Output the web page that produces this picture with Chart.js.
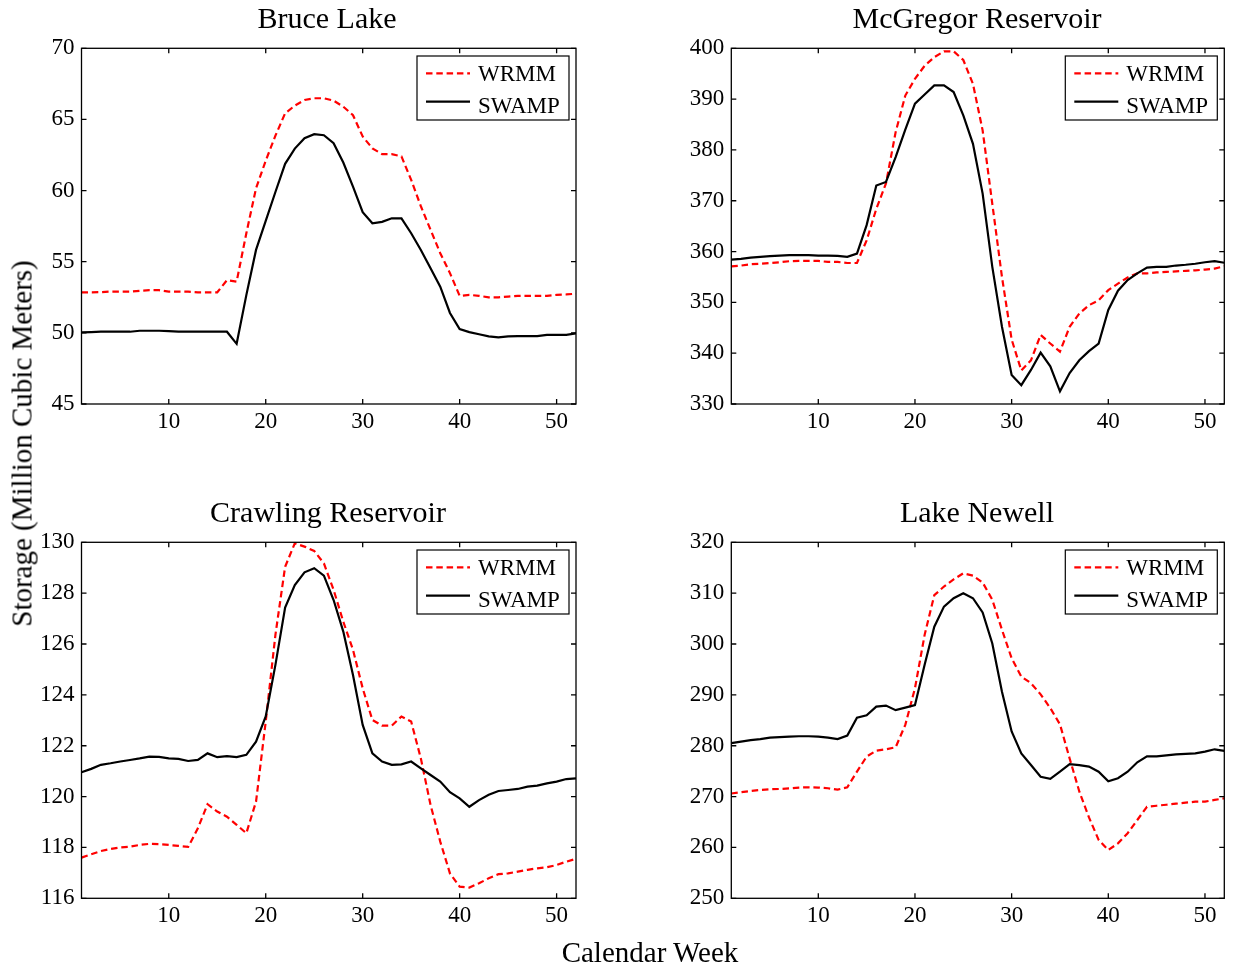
<!DOCTYPE html>
<html><head><meta charset="utf-8">
<script src="https://cdn.jsdelivr.net/npm/chart.js@4.4.0/dist/chart.umd.min.js"></script>
<style>
html,body{margin:0;padding:0;background:#fff;}
#wrap{position:relative;width:1233px;height:970px;overflow:hidden;font-family:'Liberation Serif','Times New Roman',serif;color:#000;background:#fff;}
canvas{position:absolute;left:0;top:0;}
.t{position:absolute;white-space:nowrap;line-height:1;text-align:center;}
</style></head><body>
<div id="wrap">
<canvas id="c1" width="1233" height="970"></canvas>
<canvas id="c2" width="1233" height="970"></canvas>
<canvas id="c3" width="1233" height="970"></canvas>
<canvas id="c4" width="1233" height="970"></canvas>
<div class="t" style="left:127px;top:3.2px;width:400px;font-size:30px;">Bruce Lake</div>
<div class="t" style="left:777px;top:3.2px;width:400px;font-size:30px;">McGregor Reservoir</div>
<div class="t" style="left:128px;top:497.2px;width:400px;font-size:30px;">Crawling Reservoir</div>
<div class="t" style="left:777px;top:497.2px;width:400px;font-size:30px;">Lake Newell</div>
<div class="t" style="left:-188px;top:429px;width:420px;font-size:29px;transform:rotate(-90deg);">Storage (Million Cubic Meters)</div>
<div class="t" style="left:500px;top:938px;width:300px;font-size:29px;">Calendar Week</div>
</div>
<script>
const weeks = [1,2,3,4,5,6,7,8,9,10,11,12,13,14,15,16,17,18,19,20,21,22,23,24,25,26,27,28,29,30,31,32,33,34,35,36,37,38,39,40,41,42,43,44,45,46,47,48,49,50,51,52];
const xTicks = [10,20,30,40,50];
const xTickLabels = ['10','20','30','40','50'];
const seriesNames = ['WRMM','SWAMP'];

const bruceTicks = [45,50,55,60,65,70];
const bruceWRMM = [52.84,52.85,52.86,52.9,52.9,52.9,52.95,53.0,53.0,52.9,52.9,52.9,52.85,52.85,52.85,53.7,53.6,57.0,60.16,62.1,63.86,65.43,65.97,66.37,66.49,66.49,66.32,65.9,65.3,63.8,62.97,62.56,62.56,62.4,60.75,58.9,57.24,55.6,54.2,52.6,52.67,52.6,52.5,52.5,52.55,52.6,52.6,52.6,52.6,52.67,52.7,52.75];
const bruceSWAMP = [50.03,50.05,50.08,50.08,50.08,50.08,50.15,50.15,50.15,50.12,50.08,50.08,50.08,50.08,50.08,50.08,49.23,52.65,55.83,57.87,59.9,61.88,62.95,63.68,63.96,63.89,63.33,61.97,60.28,58.48,57.7,57.8,58.05,58.05,57.0,55.83,54.54,53.25,51.4,50.26,50.05,49.9,49.75,49.68,49.75,49.77,49.77,49.77,49.86,49.86,49.86,49.96];

const mcgTicks = [330,340,350,360,370,380,390,400];
const mcgWRMM = [357.1,357.24,357.5,357.6,357.75,357.9,358.1,358.16,358.16,358.16,357.96,357.96,357.75,357.75,362.2,368.4,373.4,383.5,390.7,394.0,396.56,398.26,399.4,399.4,397.7,393.0,383.85,369.4,355.0,342.7,336.6,338.6,343.6,341.9,340.3,345.2,347.8,349.45,350.4,352.4,353.7,354.9,355.7,355.7,355.9,356.0,356.1,356.2,356.3,356.45,356.65,357.1];
const mcgSWAMP = [358.4,358.55,358.8,358.95,359.1,359.2,359.3,359.3,359.3,359.2,359.2,359.15,358.95,359.6,365.2,373.0,373.7,378.6,384.0,389.1,390.9,392.7,392.7,391.4,386.8,381.2,371.4,357.0,345.2,335.7,333.7,336.7,340.1,337.4,332.5,336.1,338.6,340.4,341.9,348.5,352.3,354.4,355.7,356.85,357.0,357.0,357.25,357.4,357.6,357.9,358.1,357.8];

const crawTicks = [116,118,120,122,124,126,128,130];
const crawWRMM = [117.6,117.73,117.86,117.94,118.0,118.03,118.1,118.14,118.13,118.1,118.06,118.02,118.75,119.7,119.41,119.21,118.89,118.56,119.8,122.95,126.36,129.04,129.96,129.83,129.66,129.17,128.13,126.88,125.77,124.26,123.01,122.79,122.79,123.15,122.95,121.5,119.67,118.23,116.98,116.46,116.42,116.59,116.79,116.95,116.98,117.05,117.12,117.18,117.22,117.31,117.44,117.55];
const crawSWAMP = [120.96,121.09,121.25,121.31,121.38,121.44,121.5,121.57,121.56,121.5,121.48,121.4,121.44,121.7,121.55,121.59,121.55,121.64,122.16,123.15,125.18,127.43,128.32,128.82,128.98,128.69,127.73,126.49,124.78,122.82,121.7,121.38,121.25,121.27,121.38,121.11,120.85,120.59,120.17,119.93,119.6,119.86,120.07,120.22,120.26,120.3,120.39,120.43,120.52,120.59,120.69,120.72];

const newellTicks = [250,260,270,280,290,300,310,320];
const newellWRMM = [270.6,270.85,271.1,271.3,271.44,271.5,271.6,271.77,271.83,271.77,271.64,271.37,271.83,274.9,277.86,279.04,279.3,279.7,284.1,291.3,301.8,309.6,311.3,312.7,313.9,313.45,312.1,308.7,302.8,297.2,293.6,292.3,290.1,287.4,284.2,277.5,271.0,265.9,261.5,259.5,260.8,262.8,265.4,268.0,268.2,268.4,268.6,268.8,269.0,269.0,269.35,269.67];
const newellSWAMP = [280.5,280.8,281.1,281.3,281.6,281.7,281.8,281.86,281.86,281.8,281.6,281.3,282.0,285.5,286.0,287.7,287.9,287.0,287.5,288.0,295.9,303.4,307.35,309.0,310.0,309.0,306.2,300.1,290.6,282.8,278.5,276.2,273.9,273.5,274.9,276.4,276.2,275.9,274.9,273.0,273.6,274.9,276.75,277.9,277.9,278.1,278.3,278.4,278.5,278.85,279.3,279.0];

Chart.defaults.font.family = "'Liberation Serif','Times New Roman',serif";
Chart.defaults.color = '#000';

const boxPlugin = {
  id: 'matlabBox',
  afterDatasetsDraw(chart) {
    const {ctx, chartArea: a} = chart;
    const xs = chart.scales.x, ys = chart.scales.y;
    ctx.save();
    ctx.strokeStyle = '#000';
    ctx.lineWidth = 1.3;
    ctx.setLineDash([]);
    const L = 5;
    ctx.beginPath();
    xs.ticks.forEach(t => {
      const px = xs.getPixelForValue(t.value);
      ctx.moveTo(px, a.bottom); ctx.lineTo(px, a.bottom - L);
      ctx.moveTo(px, a.top); ctx.lineTo(px, a.top + L);
    });
    ys.ticks.forEach(t => {
      const py = ys.getPixelForValue(t.value);
      ctx.moveTo(a.left, py); ctx.lineTo(a.left + L, py);
      ctx.moveTo(a.right, py); ctx.lineTo(a.right - L, py);
    });
    ctx.stroke();
    ctx.strokeRect(a.left, a.top, a.right - a.left, a.bottom - a.top);
    // legend box
    const bw = 152, bh = 64;
    const bx = a.right - 7 - bw, by = a.top + 7.7;
    ctx.fillStyle = '#fff';
    ctx.fillRect(bx, by, bw, bh);
    ctx.lineWidth = 1.2;
    ctx.strokeRect(bx, by, bw, bh);
    const rows = [{ly: 17.3, ty: 25}, {ly: 45.7, ty: 57}];
    const order = seriesNames.map(n => chart.data.datasets.find(d => d.label === n));
    order.forEach((ds, i) => {
      ctx.beginPath();
      ctx.strokeStyle = ds.borderColor;
      ctx.lineWidth = ds.borderWidth;
      ctx.setLineDash(ds.borderDash || []);
      ctx.moveTo(bx + 9, by + rows[i].ly);
      ctx.lineTo(bx + 53, by + rows[i].ly);
      ctx.stroke();
      ctx.setLineDash([]);
      ctx.fillStyle = '#000';
      ctx.font = "23px 'Liberation Serif','Times New Roman',serif";
      ctx.textBaseline = 'alphabetic';
      ctx.textAlign = 'left';
      ctx.fillText(ds.label, bx + 61, by + rows[i].ty);
    });
    ctx.restore();
  }
};

function makePanel(id, area, yTicks, wrmm, swamp) {
  new Chart(document.getElementById(id), {
    type: 'line',
    data: {
      labels: weeks,
      datasets: [
        {label: seriesNames[0], data: wrmm, borderColor: '#ff0000', borderWidth: 2.2, borderDash: [6.5, 3.8], pointRadius: 0, tension: 0, fill: false, order: 1},
        {label: seriesNames[1], data: swamp, borderColor: '#000000', borderWidth: 2.2, pointRadius: 0, tension: 0, fill: false, order: 0}
      ]
    },
    options: {
      responsive: false,
      animation: false,
      events: [],
      layout: {padding: {left: area.left - 70, right: 1233 - area.right, top: area.top, bottom: 970 - area.bottom - 40}},
      plugins: {legend: {display: false}, tooltip: {enabled: false}, title: {display: false}},
      scales: {
        x: {
          type: 'linear', min: 1, max: 52,
          grid: {display: false, drawTicks: false}, border: {display: false},
          ticks: {font: {size: 23}, color: '#000', padding: 4, maxRotation: 0, autoSkip: false,
                  callback: (v, i) => xTickLabels[i]},
          afterBuildTicks: s => { s.ticks = xTicks.map(v => ({value: v})); },
          afterFit: s => { s.height = 40; }
        },
        y: {
          type: 'linear', min: yTicks[0], max: yTicks[yTicks.length - 1],
          grid: {display: false, drawTicks: false}, border: {display: false},
          ticks: {font: {size: 23}, color: '#000', padding: 7, autoSkip: false,
                  callback: (v, i) => String(yTicks[i])},
          afterBuildTicks: s => { s.ticks = yTicks.map(v => ({value: v})); },
          afterFit: s => { s.width = 70; }
        }
      }
    },
    plugins: [boxPlugin]
  });
}

makePanel('c1', {left: 81.5, right: 576, top: 48.3, bottom: 404}, bruceTicks, bruceWRMM, bruceSWAMP);
makePanel('c2', {left: 731.3, right: 1224.3, top: 48.3, bottom: 404}, mcgTicks, mcgWRMM, mcgSWAMP);
makePanel('c3', {left: 81.5, right: 576, top: 542.3, bottom: 898.3}, crawTicks, crawWRMM, crawSWAMP);
makePanel('c4', {left: 731.3, right: 1224.3, top: 542.3, bottom: 898.3}, newellTicks, newellWRMM, newellSWAMP);
</script>
</body></html>
